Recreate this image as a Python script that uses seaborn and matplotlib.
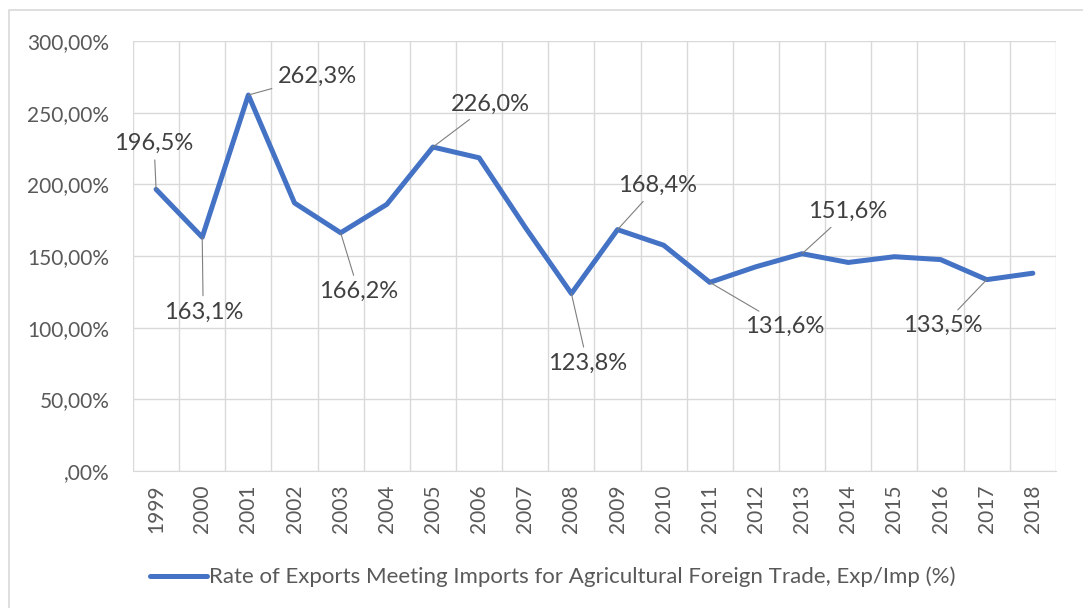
import numpy as np
import pandas as pd
import matplotlib
matplotlib.use("Agg")
import matplotlib.pyplot as plt
import seaborn as sns
from matplotlib.ticker import FuncFormatter, FixedLocator
from matplotlib.patches import Rectangle

years = [str(y) for y in range(1999, 2019)]
rate = [196.5, 163.1, 262.3, 187.0, 166.2, 186.0, 226.0, 218.5, 170.0, 123.8,
        168.4, 157.5, 131.6, 142.5, 151.6, 145.5, 149.5, 147.5, 133.5, 138.0]
series_name = "Rate of Exports Meeting Imports for Agricultural Foreign Trade, Exp/Imp (%)"

# labelled points and where their labels sit (pixel offsets)
label_years = ["1999", "2000", "2001", "2003", "2005", "2008", "2009", "2011", "2013", "2017"]
label_offsets = [(-2, 46), (1, -75), (69, 19), (18, -59), (57, 43),
                 (16, -70), (40, 44), (75, -44), (46, 42), (-44, -46)]

df = pd.DataFrame({"pos": np.arange(len(years)), "year": years, "rate": rate})

sns.set_style("white")
plt.rcParams["font.family"] = ["Lato", "DejaVu Sans"]

fig = plt.figure(figsize=(10.83, 6.08), dpi=100)
ax = fig.add_axes([0.1228, 0.2253, 0.8522, 0.7073])

blue = "#4472C4"
grid = "#D9D9D9"
txt = "#404040"

sns.lineplot(data=df, x="pos", y="rate", ax=ax, color=blue, lw=3.6,
             label=series_name, legend=False)

ax.set_xlim(-0.5, len(years) - 0.5)
ax.set_ylim(0, 300)
ax.set_yticks(np.arange(0, 301, 50))
ax.yaxis.set_major_formatter(FuncFormatter(
    lambda v, p: ",00%" if v == 0 else f"{v:.2f}%".replace(".", ",")))
ax.set_xticks(df["pos"])
ax.set_xticklabels(years, rotation=90)
ax.xaxis.set_minor_locator(FixedLocator(np.arange(-0.5, len(years), 1)))
ax.grid(True, axis="y", color=grid, lw=1)
ax.grid(True, axis="x", which="minor", color=grid, lw=1)
ax.grid(False, axis="x", which="major")
ax.tick_params(axis="y", length=0, labelsize=15, colors="#595959", pad=17)
ax.tick_params(axis="x", which="both", length=0, labelsize=15, colors="#595959", pad=10)
for s in ["top", "right", "left"]:
    ax.spines[s].set_visible(False)
ax.spines["bottom"].set_color(grid)
ax.set_xlabel("")
ax.set_ylabel("")

for yr, (dx, dy) in zip(label_years, label_offsets):
    i = years.index(yr)
    ax.annotate(f"{rate[i]:.1f}%".replace(".", ","), xy=(i, rate[i]),
                xytext=(dx, dy), textcoords="offset pixels",
                ha="center", va="center", fontsize=17, color=txt,
                arrowprops=dict(arrowstyle="-", color="#7F7F7F", lw=0.8,
                                shrinkA=2, shrinkB=0))

fig.legend(handles=ax.get_lines()[:1], labels=[series_name],
           loc="center", bbox_to_anchor=(0.51, 0.051), frameon=False,
           fontsize=16, handlelength=2.6, handletextpad=0.05,
           labelcolor="#595959")

fig.patches.append(Rectangle((0.008, -0.05), 1.2, 1.033, transform=fig.transFigure,
                             fill=False, edgecolor="#D9D9D9", lw=1.2))

fig.savefig("out.png", dpi=100)
